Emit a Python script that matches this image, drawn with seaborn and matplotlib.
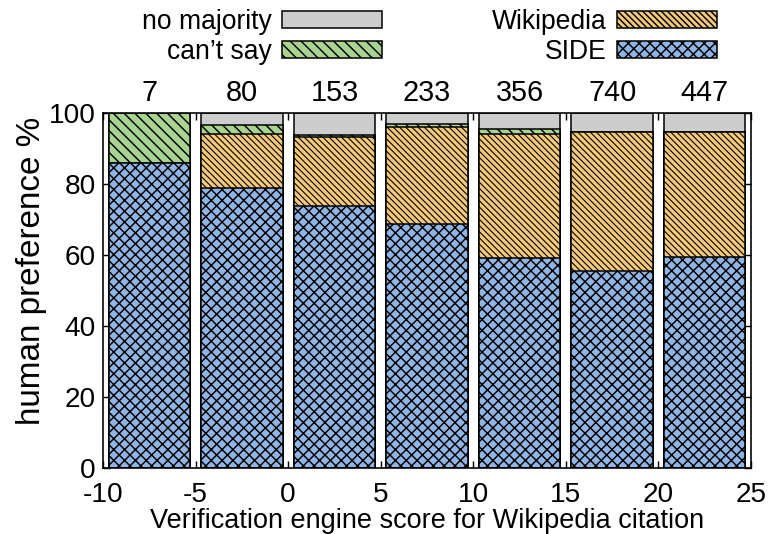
import matplotlib
matplotlib.use("Agg")
import matplotlib.pyplot as plt
from matplotlib.patches import Patch
import numpy as np
import pandas as pd
import seaborn as sns

# Score bins (bin centres) and number of judged claims per bin
bin_centers = [-7.5, -2.5, 2.5, 7.5, 12.5, 17.5, 22.5]
bin_counts = ["7", "80", "153", "233", "356", "740", "447"]

# Share of human preference per bin, in percent
side = [85.7, 78.7, 73.6, 68.6, 59.1, 55.3, 59.3]
wikipedia = [0.0, 15.2, 19.6, 27.2, 34.8, 39.1, 35.1]
cant_say = [14.3, 2.6, 0.4, 0.9, 1.4, 0.2, 0.0]
no_majority = [0.0, 3.5, 6.4, 3.3, 4.7, 5.4, 5.6]

x_ticks = [-10, -5, 0, 5, 10, 15, 20, 25]
y_ticks = [0, 20, 40, 60, 80, 100]

DPI = 130
FS_TICK = 15.5
FS_COUNT = 16
FS_LEG = 14.7

sns.set_theme(style="ticks")
plt.rcParams["font.family"] = ["Liberation Sans", "DejaVu Sans"]
plt.rcParams["hatch.linewidth"] = 0.8
plt.rcParams["axes.linewidth"] = 0.9
for key in ["text.color", "axes.labelcolor", "xtick.color", "ytick.color",
            "axes.edgecolor"]:
    plt.rcParams[key] = "black"

fig = plt.figure(figsize=(772 / DPI, 534 / DPI), dpi=DPI)
ax = fig.add_axes([0.1334, 0.1236, 0.8394, 0.6657])

# name, values, fill colour, hatch, hatch line width
layers = [
    ("SIDE", side, "#90b5e4", "xxxx", 0.8),
    ("Wikipedia", wikipedia, "#f4c97b", "\\" * 7, 0.6),
    ("can\u2019t say", cant_say, "#a8d391", "\\" * 4, 0.8),
    ("no majority", no_majority, "#cdcdcd", "", 0.8),
]


def style_patch(p, hatch, hlw):
    p.set_hatch(hatch)
    if hasattr(p, "set_hatch_linewidth"):
        p.set_hatch_linewidth(hlw)


# Cumulative tops of each stacked layer
tops = np.cumsum(np.array([l[1] for l in layers]), axis=0)

# Draw from the highest cumulative layer down so each lower layer overlays
for (name, vals, color, hatch, hlw), top in reversed(list(zip(layers, tops))):
    df = pd.DataFrame({"score": bin_centers, "pct": top})
    n_before = len(ax.patches)
    sns.barplot(data=df, x="score", y="pct", native_scale=True, width=0.88,
                color=color, saturation=1, edgecolor="black", linewidth=0.85,
                errorbar=None, ax=ax)
    for p in ax.patches[n_before:]:
        style_patch(p, hatch, hlw)

ax.set_xlim(-10, 25)
ax.set_ylim(0, 100)
ax.set_xticks(x_ticks)
ax.set_xticklabels([str(t) for t in x_ticks])
ax.set_yticks(y_ticks)
ax.tick_params(direction="in", top=True, right=True, length=4, width=0.8,
               labelsize=FS_TICK)
ax.tick_params(axis="x", pad=7.5)
ax.tick_params(axis="y", pad=4)
for s in ax.spines.values():
    s.set_visible(True)

ax.set_xlabel("Verification engine score for Wikipedia citation",
              fontsize=15, labelpad=0)
ax.set_ylabel("human preference %", fontsize=18.4)
ax.yaxis.set_label_coords(-0.086, 0.553)

# Number of claims above each bin
for xc, label in zip(bin_centers, bin_counts):
    ax.text(xc, 105.5, label, ha="center", va="center", fontsize=FS_COUNT,
            clip_on=False)

handles = {}
for name, _, color, hatch, hlw in layers:
    h = Patch(facecolor=color, edgecolor="black", linewidth=0.85)
    style_patch(h, hatch, hlw)
    handles[name] = h
order = ["no majority", "can\u2019t say", "Wikipedia", "SIDE"]
fig.legend([handles[k] for k in order], order, ncol=2, markerfirst=False,
           loc="upper right", bbox_to_anchor=(717 / 772, 1 - 9 / 534),
           frameon=False, fontsize=FS_LEG, handlelength=3.77,
           handleheight=0.6, handletextpad=0.38, columnspacing=4.15,
           labelspacing=0.15, borderpad=0, borderaxespad=0)

fig.savefig("out.png", dpi=DPI)
